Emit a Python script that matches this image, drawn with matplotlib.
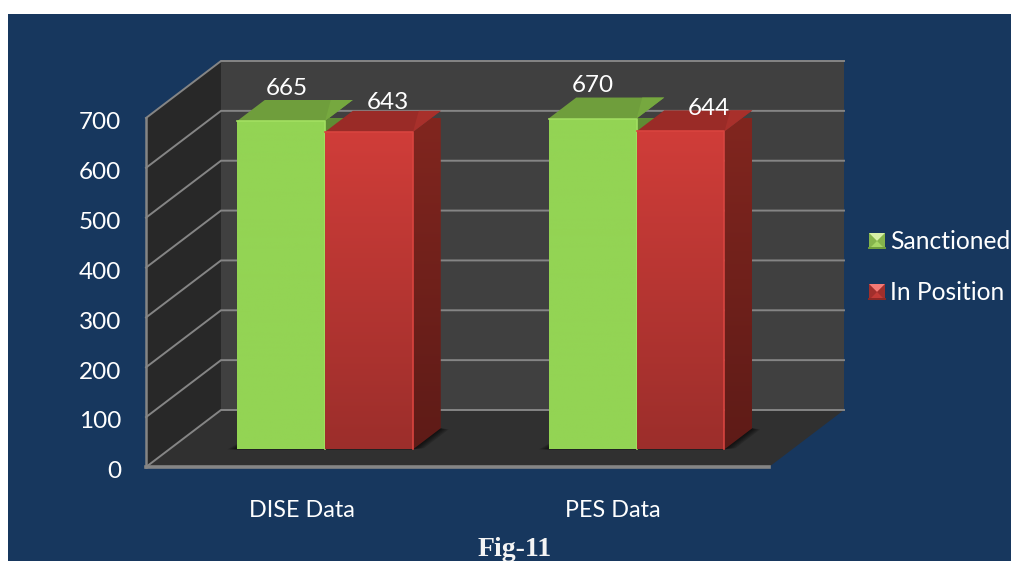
import numpy as np
import matplotlib
matplotlib.use("Agg")
import matplotlib.pyplot as plt
from matplotlib.colors import to_rgb
from matplotlib.patches import Polygon, Rectangle
from matplotlib.transforms import ScaledTranslation

categories = ["DISE Data", "PES Data"]
series_names = ["Sanctioned", "In Position"]
sanctioned = [665, 670]
in_position = [643, 644]
y_ticks = [0, 100, 200, 300, 400, 500, 600, 700]

plt.rcParams["font.family"] = ["Lato", "DejaVu Sans"]

W, H = 1011, 561
LEFT, RIGHT, TOP, BOTTOM = 146, 769, 118, 467
BAR_W = 0.2825
FRONT, BACK = 0.31, 0.68
BAR_SCALE = 0.99  # bars sit deeper in the box so they look a bit shorter

fig = plt.figure(figsize=(W / 100, H / 100), dpi=100, facecolor="white")

# page layer, in pixels
page = fig.add_axes([0, 0, 1, 1], zorder=0)
page.set_xlim(0, W)
page.set_ylim(H, 0)
page.axis("off")
page.add_patch(Rectangle((8, 14), W - 8, H - 14, fc="#17375e", ec="none"))

ax = fig.add_axes([LEFT / W, 1 - BOTTOM / H, (RIGHT - LEFT) / W, (BOTTOM - TOP) / H], zorder=1)
ax.patch.set_alpha(0)
for s in ax.spines.values():
    s.set_visible(False)

DX = 75 / ((RIGHT - LEFT) / 2)
DY = 57 / ((BOTTOM - TOP) / 700)


def proj(x, v, d):
    return (x + d * DX, v + d * DY)


def poly(pts, color, z, **kw):
    p = Polygon(pts, closed=True, fc=color, ec="none", zorder=z, clip_on=False, **kw)
    ax.add_patch(p)
    return p


def gradient(pts, c_top, c_bottom, z):
    # vertical colour ramp clipped to a polygon
    p = poly(pts, "none", z)
    xs = [q[0] for q in pts]
    ys = [q[1] for q in pts]
    a, b = np.array(to_rgb(c_top)), np.array(to_rgb(c_bottom))
    t = np.linspace(0, 1, 128)[:, None, None]
    img = a[None, None, :] * (1 - t) + b[None, None, :] * t
    im = ax.imshow(img, extent=(min(xs), max(xs), min(ys), max(ys)), origin="upper",
                   aspect="auto", zorder=z, clip_on=True)
    im.set_clip_path(p)


def box(x0, value, colors, z):
    top = value * BAR_SCALE
    x1 = x0 + BAR_W
    # right side, top, front
    gradient([proj(x1, 0, FRONT), proj(x1, 0, BACK), proj(x1, top, BACK), proj(x1, top, FRONT)],
             colors["side_top"], colors["side_bottom"], z)
    poly([proj(x0, top, FRONT), proj(x0, top, BACK), proj(x1, top, BACK), proj(x1, top, FRONT)],
         colors["lid"], z + 0.1)
    poly([proj(x1 - 0.25 * BAR_W, top, BACK), proj(x1, top, BACK), proj(x1, top, FRONT)],
         colors["lid_light"], z + 0.1)
    gradient([proj(x0, 0, FRONT), proj(x0, top, FRONT), proj(x1, top, FRONT), proj(x1, 0, FRONT)],
             colors["front_top"], colors["front_bottom"], z + 0.2)
    edge = [proj(x0, top, FRONT), proj(x1, top, FRONT), proj(x1, 0, FRONT)]
    ax.plot(*zip(*edge), color=colors["edge"], lw=1.2, zorder=z + 0.3, clip_on=False)


GREEN = dict(front_top="#93d454", front_bottom="#93d454", side_top="#5f8c34", side_bottom="#5f8c34",
             lid="#6f9e3c", lid_light="#76a83f", edge="#a2e061")
RED = dict(front_top="#d03d39", front_bottom="#9c2e2b", side_top="#82261f", side_bottom="#5e1b17",
           lid="#9a2b27", lid_light="#a8302b", edge="#d9443f")

# walls and floor
poly([proj(0, 0, 0), proj(0, 0, 1), proj(0, 700, 1), proj(0, 700, 0)], "#282828", 1)
poly([proj(0, 0, 1), proj(2, 0, 1), proj(2, 700, 1), proj(0, 700, 1)], "#404040", 1)
poly([proj(0, 0, 0), proj(2, 0, 0), proj(2, 0, 1), proj(0, 0, 1)], "#303030", 1)

for v in y_ticks:
    pts = [proj(0, v, 0), proj(0, v, 1), proj(2, v, 1)]
    ax.plot(*zip(*pts), color="#858585", lw=1.4, zorder=2, clip_on=False, solid_joinstyle="miter")

ax.plot([0, 0], [0, 700], color="#858585", lw=1.8, zorder=2, clip_on=False)
ax.plot([0, 2], [0, 0], color="#858585", lw=2.6, zorder=2, clip_on=False)

# soft shadow on the floor
for grow in np.linspace(0.03, 0.005, 5):
    for g in range(len(categories)):
        x0 = g + 0.5 - BAR_W
        x1 = g + 0.5 + BAR_W
        poly([proj(x0 - grow, 0, FRONT), proj(x1, 0, FRONT), proj(x1 + grow, 0, FRONT + 0.02),
              proj(x1 + grow, 0, BACK - 0.02), proj(x1, 0, BACK), proj(x0, 0, BACK)],
             "black", 3, alpha=0.16)

label_nudge = [[(6, -33), (19, -29)], [(0, -33), (28, -23)]]

for g, (a, b) in enumerate(zip(sanctioned, in_position)):
    x0 = g + 0.5 - BAR_W
    box(x0, a, GREEN, 4 + g)
    box(x0 + BAR_W, b, RED, 4.5 + g)
    for k, v in enumerate((a, b)):
        cx = x0 + BAR_W * (k + 0.5)
        dx, dy = label_nudge[g][k]
        ax.annotate(str(v), proj(cx, v * BAR_SCALE, FRONT), xytext=(dx * 0.72, -dy * 0.72),
                    textcoords="offset points", ha="center", va="center", color="white",
                    fontsize=17.5, zorder=20, annotation_clip=False)

ax.set_xlim(0, 2)
ax.set_ylim(0, 700)
ax.set_xticks([i + 0.5 for i in range(len(categories))])
ax.set_xticklabels(categories, color="white", fontsize=16.8)
ax.set_yticks(y_ticks)
ax.set_yticklabels([str(v) for v in y_ticks], color="white", fontsize=17.5)
ax.tick_params(axis="x", length=0, pad=24)
ax.tick_params(axis="y", length=0, pad=18)
shift = ScaledTranslation(0, -2 / 72, fig.dpi_scale_trans)
for lab in ax.get_yticklabels():
    lab.set_transform(lab.get_transform() + shift)

# legend, in pixels
legend_colors = [("#d6efa6", "#a6d666", "#6f9e3c"), ("#f47a76", "#c23a36", "#8c2826")]
for name, (light, mid, dark), cy in zip(series_names, legend_colors, [241, 292]):
    x0, x1, y0, y1 = 869, 885, cy - 8, cy + 8
    xc, yc = (x0 + x1) / 2, (y0 + y1) / 2
    page.add_patch(Rectangle((x0, y0), 16, 16, fc=mid, ec="none"))
    page.add_patch(Polygon([(x0, y0), (x1, y0), (xc, yc)], fc=light, ec="none"))
    page.add_patch(Polygon([(x0, y1), (x1, y1), (xc, yc)], fc=mid, ec="none"))
    page.add_patch(Polygon([(x0, y0), (x0, y1), (xc, yc)], fc=dark, alpha=0.6, ec="none"))
    page.add_patch(Polygon([(x1, y0), (x1, y1), (xc, yc)], fc=dark, alpha=0.6, ec="none"))
    page.plot([x0, x1], [y1 - 1.5, y1 - 1.5], color=dark, lw=1.4)
    page.text(890, cy, name, color="white", fontsize=17.7, ha="left", va="center")

page.text(514.5, 556, "Fig-11", color="#f4f4f4", fontsize=20, fontweight="bold",
          family=["Liberation Serif", "DejaVu Serif"], ha="center", va="baseline")

fig.savefig("out.png", dpi=100, facecolor=fig.get_facecolor())
